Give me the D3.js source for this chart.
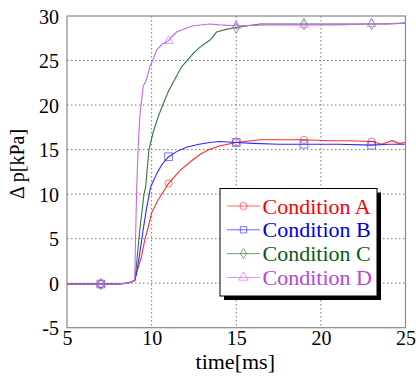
<!DOCTYPE html>
<html><head><meta charset="utf-8">
<script src="https://cdn.jsdelivr.net/npm/d3@7/dist/d3.min.js"></script>
<style>body{margin:0;background:#fff} svg text{font-family:'Liberation Serif','Times New Roman',serif}</style>
</head><body>
<svg id="c" width="416" height="378"></svg>
<script>
const xTicks = [5, 10, 15, 20, 25];
const yTicks = [-5, 0, 5, 10, 15, 20, 25, 30];
const markerTimes = [7, 11, 15, 19, 23];
const seriesNames = ["Condition A", "Condition B", "Condition C", "Condition D"];

const timeA = [5, 6, 7, 8, 8.6, 9.0, 9.1, 9.25, 9.4, 9.6, 9.8, 10.0, 10.4, 10.8, 11, 11.7, 12.4, 12.9, 13.4, 14, 15, 16.4, 17.5, 19, 20.5, 21.7, 23, 23.6, 24.2, 24.6, 25];
const valA  = [-0.1, -0.1, -0.1, -0.1, 0, 0.3, 1.2, 2.0, 3.0, 4.9, 6.3, 7.9, 9.4, 10.6, 11.2, 12.7, 13.8, 14.5, 15.0, 15.4, 15.8, 16.1, 16.1, 16.1, 16.0, 16.0, 15.9, 15.6, 16.0, 15.7, 15.8];

const timeB = [5, 6, 7, 8, 8.6, 9.0, 9.1, 9.27, 9.5, 9.7, 9.94, 10.3, 10.6, 11, 11.5, 12.1, 12.8, 13.45, 14, 15, 16, 17.5, 19, 21, 23, 24, 25];
const valB  = [-0.1, -0.1, -0.1, -0.1, 0, 0.3, 1.0, 3.0, 6.0, 8.4, 10.8, 12.3, 13.3, 14.2, 14.8, 15.3, 15.6, 15.8, 15.9, 15.8, 15.7, 15.6, 15.6, 15.6, 15.5, 15.6, 15.6];

const timeC = [5, 6, 7, 8, 8.6, 9.0, 9.05, 9.15, 9.3, 9.55, 9.65, 9.84, 10.1, 10.39, 10.7, 10.98, 11.4, 11.77, 12.1, 12.46, 12.86, 13.45, 13.84, 14.4, 15, 15.7, 16.4, 17.5, 19, 21, 23, 24, 25];
const valC  = [-0.1, -0.1, -0.1, -0.1, 0, 0.3, 1.0, 3.0, 6.0, 10.0, 10.8, 15.0, 17.0, 18.7, 20.2, 21.5, 23.0, 24.3, 25.0, 25.8, 26.5, 27.3, 28.2, 28.5, 28.7, 28.9, 29.1, 29.1, 29.1, 29.1, 29.1, 29.1, 29.2];

const timeD = [5, 6, 7, 8, 8.6, 9.0, 9.05, 9.12, 9.2, 9.31, 9.5, 9.7, 9.9, 10.1, 10.3, 10.6, 10.89, 11, 11.2, 11.48, 12, 12.46, 13.45, 14, 15, 17, 19, 21, 23, 25];
const valD  = [-0.1, -0.1, -0.1, -0.1, 0, 0.3, 5.0, 10.8, 15.0, 18.9, 22.1, 22.9, 24.3, 25.2, 26.2, 26.8, 27.1, 27.2, 27.7, 28.2, 28.6, 28.9, 29.1, 29.0, 28.9, 29.0, 29.0, 29.0, 29.1, 29.2];

const lineColors = ["#ff2a2a", "#2a2aff", "#2f7a3c", "#cc66ee"];
const textColors = ["#ff0000", "#0000e0", "#0a5a1a", "#b845d8"];
const shapes = ["circle", "square", "diamond", "triangle"];

const series = [
  {name: seriesNames[0], t: timeA, v: valA},
  {name: seriesNames[1], t: timeB, v: valB},
  {name: seriesNames[2], t: timeC, v: valC},
  {name: seriesNames[3], t: timeD, v: valD}
];

const svg = d3.select("#c");
const L = 67, R = 405.5, T = 16, B = 327.7;
const x = d3.scaleLinear().domain([5, 25]).range([L, R]);
const y = d3.scaleLinear().domain([-5, 30]).range([B, T]);
const font = "'Liberation Serif', 'Times New Roman', serif";
const fmt = d => String(d);

// grid
const g = svg.append("g");
g.selectAll(".gx").data(xTicks.slice(1, -1)).enter().append("line")
  .attr("x1", d => x(d)).attr("x2", d => x(d)).attr("y1", T).attr("y2", B)
  .attr("stroke", "#777").attr("stroke-width", 1).attr("stroke-dasharray", "1.5,2.5");
g.selectAll(".gy").data(yTicks.slice(1, -1)).enter().append("line")
  .attr("y1", d => y(d)).attr("y2", d => y(d)).attr("x1", L).attr("x2", R)
  .attr("stroke", "#777").attr("stroke-width", 1).attr("stroke-dasharray", "1.5,2.5");

const ax = svg.append("g").attr("transform", `translate(0,${B})`)
  .call(d3.axisBottom(x).tickValues(xTicks).tickFormat(fmt).tickSize(0).tickPadding(3));
ax.attr("font-family", null).attr("font-size", null);
ax.select(".domain").remove();
ax.selectAll("text").style("font-family", font).style("font-size", "20px").attr("fill", "#000").attr("dy", "0.71em");

const ay = svg.append("g").attr("transform", `translate(${L},0)`)
  .call(d3.axisLeft(y).tickValues(yTicks).tickFormat(fmt).tickSize(0).tickPadding(8));
ay.attr("font-family", null).attr("font-size", null);
ay.select(".domain").remove();
ay.selectAll("text").style("font-family", font).style("font-size", "20px").attr("fill", "#000").attr("dy", "0.35em");

// lines
const line = d3.line().x(d => x(d[0])).y(d => y(d[1]));
const symbolFor = {
  circle: d3.symbolCircle, square: d3.symbolSquare, diamond: d3.symbolDiamond, triangle: d3.symbolTriangle
};
const mSize = {circle: 40, square: 60, diamond: 36, triangle: 34};
series.forEach((s, i) => {
  const pts = s.t.map((t, k) => [t, s.v[k]]);
  svg.append("path").datum(pts).attr("d", line)
    .attr("fill", "none").attr("stroke", lineColors[i]).attr("stroke-width", 1.1);
  const mk = pts.filter(p => markerTimes.includes(p[0]));
  svg.selectAll(null).data(mk).enter().append("path")
    .attr("d", d3.symbol().type(symbolFor[shapes[i]]).size(mSize[shapes[i]]))
    .attr("transform", d => `translate(${x(d[0])},${y(d[1])})`)
    .attr("fill", "none").attr("stroke", lineColors[i]).attr("stroke-width", 0.9).attr("opacity", 0.7);
});

// frame
svg.append("rect").attr("x", L).attr("y", T).attr("width", R - L).attr("height", B - T)
  .attr("fill", "none").attr("stroke", "#888").attr("stroke-width", 1.2);

// axis titles
svg.append("text").attr("x", (L + R) / 2 - 1).attr("y", 369).attr("text-anchor", "middle")
  .style("font-family", font).style("font-size", "22px").text("time[ms]");
svg.append("text").attr("transform", "translate(24,164) rotate(-90)").attr("text-anchor", "middle")
  .style("font-family", font).style("font-size", "20px").text("Δ p[kPa]");

// legend
const lx = 220, ly = 188.5, lw = 157, lh = 107.5;
svg.append("rect").attr("x", lx + 4).attr("y", ly + 4).attr("width", lw).attr("height", lh).attr("fill", "#000");
svg.append("rect").attr("x", lx).attr("y", ly).attr("width", lw).attr("height", lh)
  .attr("fill", "#fff").attr("stroke", "#000").attr("stroke-width", 1);
series.forEach((s, i) => {
  const cy = 206 + i * 23.8;
  svg.append("line").attr("x1", 227).attr("x2", 260).attr("y1", cy).attr("y2", cy)
    .attr("stroke", lineColors[i]).attr("stroke-width", 1).attr("opacity", 0.7);
  svg.append("path").attr("d", d3.symbol().type(symbolFor[shapes[i]]).size(shapes[i] === "diamond" ? 30 : 40))
    .attr("transform", `translate(243.5,${cy})`).attr("fill", "none")
    .attr("stroke", lineColors[i]).attr("stroke-width", 0.9).attr("opacity", 0.7);
  svg.append("text").attr("x", 262.5).attr("y", cy + 7.5).style("font-family", font).style("font-size", "22px")
    .attr("fill", textColors[i]).text(s.name);
});
</script>
</body></html>
